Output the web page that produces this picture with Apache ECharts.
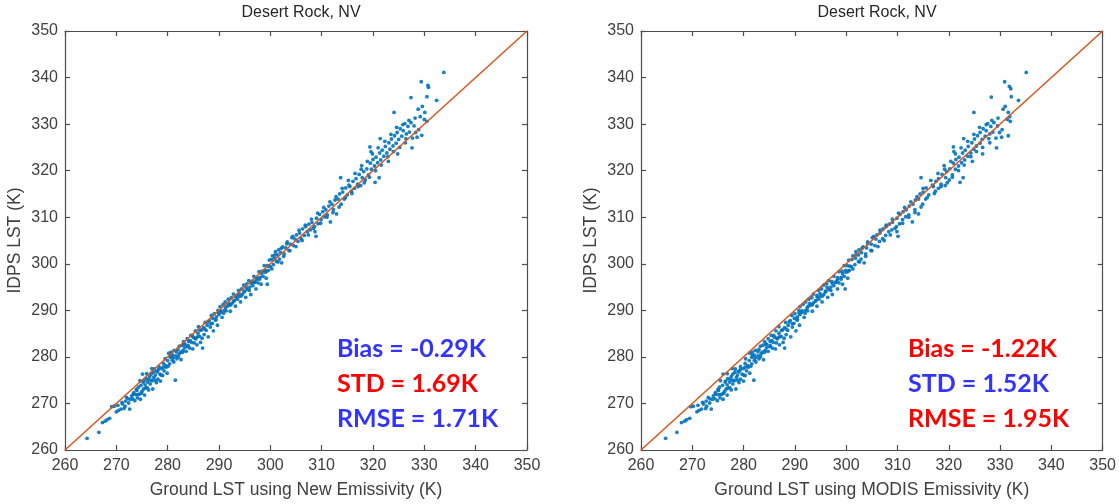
<!DOCTYPE html>
<html>
<head>
<meta charset="utf-8">
<script src="https://cdn.jsdelivr.net/npm/echarts@6/dist/echarts.min.js"></script>
<style>
html,body{margin:0;padding:0;background:#fff;}
#chart{width:1119px;height:504px;}
</style>
</head>
<body>
<div id="chart"></div>
<script>
// ---- data ----
var panelTitles = ['Desert Rock, NV', 'Desert Rock, NV'];
var xAxisNames = ['Ground LST using New Emissivity (K)', 'Ground LST using MODIS Emissivity (K)'];
var yAxisName = 'IDPS LST (K)';
var axisMin = 260, axisMax = 350, axisStep = 10;
var oneToOne = [[260, 260], [350, 350]];

// [ground LST, IDPS LST] using new emissivity
var newEmisPoints = [
[264.3,262.5],[266.6,263.8],[267.3,265.9],[267.8,266.2],[268.2,266.5],[268.7,266.8],[269.1,269.3],[269.6,269.4],[270.0,268.2],[270.4,268.5],[270.9,268.8],[271.2,269.9],[271.5,268.9],[271.8,270.5],[272.0,271.3],[272.3,271.0],[272.6,268.8],[272.8,270.9],[273.0,271.6],
[273.2,271.0],[273.4,272.3],[273.6,270.6],[273.8,271.9],[274.0,272.8],[274.1,271.2],[274.3,273.5],[274.5,272.0],[274.6,274.9],[274.7,270.9],[274.8,273.9],[275.0,272.6],[275.1,276.3],[275.2,274.6],[275.3,273.1],[275.5,271.8],[275.6,274.0],[275.8,275.3],[275.9,276.4],[276.0,273.4],[276.1,274.6],[276.3,272.9],[276.5,275.8],[276.6,274.2],[276.8,276.3],[276.9,277.5],[277.0,274.9],[277.1,273.1],[277.2,276.7],[277.3,275.6],[277.4,277.4],[277.6,276.1],[277.8,274.5],[278.0,276.8],[278.1,275.2],[278.3,277.9],[278.5,276.3],[278.6,274.8],[278.8,277.5],[279.0,276.0],[279.2,278.6],[279.3,277.0],[279.5,279.6],[279.7,277.8],[279.9,276.5],
[280.0,279.2],[280.2,280.8],[280.4,278.5],[280.5,279.9],[280.7,281.0],[280.9,279.3],[281.0,280.4],[281.2,278.9],[281.3,281.4],[281.5,275.0],[281.6,280.2],[281.8,279.6],[282.0,281.6],[282.1,280.0],[282.3,282.3],[282.5,281.0],[282.6,279.4],[282.8,282.5],[283.0,281.4],[283.1,283.3],[283.3,282.0],[283.4,282.7],[283.6,281.2],[283.8,283.9],[284.0,282.4],[284.1,283.3],[284.3,281.9],[284.5,284.6],[284.7,283.1],[284.9,281.7],[285.0,284.2],[285.2,283.0],[285.4,285.6],[285.5,283.9],[285.7,282.6],[285.9,285.1],[286.0,286.5],[286.2,284.4],[286.4,283.1],[286.6,285.8],[286.8,281.9],[287.0,286.3],[287.1,284.8],[287.3,287.4],[287.5,285.7],[287.7,286.8],[287.9,284.3],[288.1,287.8],[288.3,286.4],[288.5,288.9],[288.7,287.2],[288.9,285.6],[289.1,289.3],[289.3,287.9],[289.5,288.6],[289.7,286.8],[289.9,289.5],
[290.0,289.1],[290.2,290.8],[290.4,289.6],[290.6,288.5],[290.8,291.3],[291.0,290.0],[291.2,291.8],[291.4,289.9],[291.6,290.9],[291.8,292.4],[292.0,291.1],[292.2,289.8],[292.4,292.7],[292.6,291.6],[292.8,293.5],[293.0,292.1],[293.2,290.9],[293.4,293.2],[293.6,292.4],[293.8,294.3],[294.0,293.0],[294.2,291.8],[294.4,294.6],[294.6,293.5],[294.8,295.4],[295.0,294.1],[295.2,292.8],[295.4,295.7],[295.6,294.5],[295.8,296.4],[296.0,295.0],[296.2,293.4],[296.4,296.2],[296.6,295.3],[296.8,297.3],[297.0,296.1],[297.2,294.6],[297.4,297.0],[297.6,295.9],[297.8,298.3],[298.0,297.1],[298.2,295.6],[298.4,298.4],[298.6,297.3],[298.8,299.6],[299.0,298.2],[299.2,296.9],[299.4,295.6],[299.4,299.6],[299.6,298.6],[299.8,300.8],
[300.0,299.4],[300.2,300.9],[300.4,301.7],[300.6,299.8],[300.8,301.2],[301.0,302.6],[301.2,300.5],[301.4,301.9],[301.6,303.0],[301.8,301.0],[302.0,302.4],[302.2,300.2],[302.4,303.6],[302.7,302.1],[303.0,303.4],[303.3,304.7],[303.6,302.9],[303.9,304.2],[304.2,305.6],[304.5,303.9],[304.8,305.3],[305.1,306.2],[305.4,304.8],[305.7,306.6],[306.0,305.4],[306.3,307.5],[306.6,306.1],[306.9,308.0],[307.2,306.9],[307.5,308.5],[307.8,307.3],[308.1,308.9],[308.4,307.6],[308.7,306.9],[308.9,305.9],[309.0,309.8],[309.3,308.6],[309.6,310.6],[309.9,309.5],[310.2,311.2],[310.5,310.1],[310.8,311.6],[311.1,310.5],[311.4,312.4],[311.7,309.0],[312.0,312.8],[312.3,311.6],[312.6,313.7],[312.9,310.7],[313.2,313.9],[313.5,315.0],[313.7,318.5],[313.8,312.8],[314.1,315.4],[314.4,313.9],[314.7,316.3],[315.0,314.8],
[315.3,316.9],[315.5,316.6],[315.8,315.6],[316.1,317.7],[316.4,316.2],[316.7,318.3],[317.0,317.1],[317.3,319.2],[317.6,316.8],[317.8,321.1],[317.9,318.5],[318.2,319.8],[318.5,318.0],[318.8,320.4],[319.1,319.1],[319.4,325.1],[319.6,324.1],[319.5,321.6],[319.7,320.3],[320.0,322.4],[320.3,321.0],[320.4,317.5],[320.6,322.9],[320.9,321.7],[321.2,318.5],[321.3,323.8],[321.4,326.9],[321.5,322.3],[321.8,324.4],[322.1,323.1],[322.4,325.2],[322.7,323.8],[323.0,322.0],[323.1,326.0],[323.3,324.6],[323.6,326.8],[323.9,325.3],[324.1,332.5],[324.2,327.5],[324.5,325.9],[324.7,328.2],[324.8,323.6],[325.0,326.7],[325.3,329.0],[325.6,327.4],[325.9,328.6],[326.2,330.1],[326.3,326.0],[326.5,327.9],[326.8,329.5],[327.1,328.3],[327.4,335.7],[327.6,324.9],[327.4,330.3],
[328.0,329.6],[328.3,328.2],[328.6,327.2],[328.8,333.2],[329.2,331.6],[329.4,339.1],[329.5,327.6],[330.0,331.0],[330.1,332.5],[330.5,335.9],[330.5,330.6],[330.7,338.3],[330.8,337.9],[332.4,335.1],[333.8,341.1],
[270.3,269.6],[271.1,270.2],[271.7,269.4],[272.4,270.1],[273.3,272.0],[273.9,273.0],[274.2,271.9],[274.9,272.2],[275.4,274.8],[275.7,273.3],[276.2,275.2],[276.7,275.0],[277.5,275.0],[277.9,276.9],[278.2,277.3],[278.7,276.1],[279.1,277.8],[279.6,278.1],[280.1,278.0],[280.6,280.3],[281.1,279.8],[281.7,281.1],[282.2,280.6],[282.9,281.0],[283.2,282.8],[283.9,282.2],[284.4,283.5],[284.8,284.6],[285.3,284.0],[285.8,284.3],[286.3,285.7],[286.7,284.0],[287.2,286.0],[287.8,287.5],[288.4,287.1],[288.8,288.3],[289.4,288.0],[289.8,290.0],[290.3,289.9],[290.9,289.4],[291.3,290.6],[291.9,291.5],[292.3,291.2],[292.9,292.0],[293.3,292.8],[293.9,293.6],[294.3,293.1],[294.9,294.0],[295.3,294.9],[295.9,294.3],[296.3,295.8],[296.9,296.0],[297.3,296.6],[297.9,296.7],[298.3,297.9],[298.9,298.6],[299.3,298.4],[299.7,299.5],
[300.3,298.9],[300.9,301.9],[301.5,300.4],[302.1,303.3],[302.6,301.6],[303.2,304.3],[303.8,302.8],[304.4,305.9],[305.0,303.7],[305.6,307.2],[306.2,305.0],[306.8,308.3],[307.4,306.2],[308.0,309.6],[308.6,308.0],[309.2,310.9],[309.8,308.7],[310.4,312.1],[311.0,310.0],[311.6,313.3],[312.2,311.0],[312.8,314.4],[313.4,312.2],[314.0,316.2],[314.6,314.2],
[315.2,317.9],[315.9,315.1],[316.5,319.4],[317.1,316.6],[317.7,320.3],[318.3,317.4],[318.9,322.0],[319.3,318.6],[319.9,323.6],[320.5,320.0],[321.0,324.9],[321.6,321.2],[322.3,326.3],[322.9,323.0],[323.5,327.8],[324.0,324.1],[324.6,329.3],[325.2,325.0],[325.8,329.9],[326.4,326.9],[327.0,330.8],[327.7,327.0],[328.2,331.3],[328.9,328.8],[329.6,333.8]
];

// [ground LST, IDPS LST] using MODIS emissivity
var modisEmisPoints = [
[264.8,262.5],[267.0,263.8],[267.9,265.9],[268.5,266.2],[268.9,266.5],[269.5,266.8],[269.7,269.3],[270.2,269.4],[270.9,268.2],[271.3,268.5],[271.8,268.8],[272.2,269.9],[272.6,268.9],[272.7,270.5],[273.1,271.3],[273.4,271.0],[273.7,268.8],[273.9,270.9],[274.1,271.6],
[274.4,271.0],[274.5,272.3],[274.9,270.6],[275.0,271.9],[275.1,272.8],[275.4,271.2],[275.3,273.5],[275.8,272.0],[275.5,274.9],[276.0,270.9],[275.9,273.9],[276.3,272.6],[276.0,276.3],[276.4,274.6],[276.6,273.1],[276.8,271.8],[276.8,274.0],[276.9,275.3],[276.8,276.4],[277.3,273.4],[277.3,274.6],[277.6,272.9],[277.6,275.8],[277.9,274.2],[277.9,276.3],[277.8,277.5],[278.2,274.9],[278.5,273.1],[278.3,276.7],[278.6,275.6],[278.4,277.4],[278.8,276.1],[279.1,274.5],[279.1,276.8],[279.4,275.2],[279.4,277.9],[279.7,276.3],[280.0,274.8],[280.0,277.5],[280.3,276.0],[280.3,278.6],[280.6,277.0],[280.4,279.6],[280.9,277.8],[281.2,276.5],
[281.1,279.2],[281.2,280.8],[281.6,278.5],[281.6,279.9],[281.7,281.0],[282.1,279.3],[282.1,280.4],[282.4,278.9],[282.3,281.4],[282.0,275.0],[282.8,280.2],[283.0,279.6],[283.0,281.6],[283.3,280.0],[283.3,282.3],[283.6,281.0],[283.9,279.4],[283.8,282.5],[284.2,281.4],[284.1,283.3],[284.5,282.0],[284.5,282.7],[284.8,281.2],[284.8,283.9],[285.2,282.4],[285.2,283.3],[285.6,281.9],[285.4,284.6],[285.8,283.1],[286.2,281.7],[286.0,284.2],[286.4,283.0],[286.3,285.6],[286.6,283.9],[287.0,282.6],[286.9,285.1],[286.9,286.5],[287.3,284.4],[287.7,283.1],[287.6,285.8],[288.0,281.9],[288.0,286.3],[288.3,284.8],[288.2,287.4],[288.6,285.7],[288.7,286.8],[289.2,284.3],[289.1,287.8],[289.5,286.4],[289.4,288.9],[289.8,287.2],[290.2,285.6],[290.0,289.3],[290.4,287.9],[290.5,288.6],[290.9,286.8],[290.8,289.5],
[291.0,289.1],[291.0,290.8],[291.4,289.6],[291.8,288.5],[291.6,291.3],[292.1,290.0],[292.1,291.8],[292.5,289.9],[292.6,290.9],[292.7,292.4],[293.0,291.1],[293.4,289.8],[293.3,292.7],[293.6,291.6],[293.6,293.5],[294.1,292.1],[294.3,290.9],[294.3,293.2],[294.7,292.4],[294.6,294.3],[295.0,293.0],[295.3,291.8],[295.2,294.6],[295.7,293.5],[295.6,295.4],[296.0,294.1],[296.4,292.8],[296.2,295.7],[296.6,294.5],[296.6,296.4],[297.0,295.0],[297.3,293.4],[297.2,296.2],[297.6,295.3],[297.6,297.3],[298.0,296.1],[298.3,294.6],[298.3,297.0],[298.6,295.9],[298.6,298.3],[299.0,297.1],[299.3,295.6],[299.2,298.4],[299.6,297.3],[299.6,299.6],[300.0,298.2],[300.3,296.9],[299.8,294.6],[300.2,299.6],[300.6,298.6],[300.5,300.8],
[301.0,299.4],[301.1,300.9],[301.3,301.7],[301.7,299.8],[301.8,301.2],[301.9,302.6],[302.4,300.5],[302.4,301.9],[302.5,303.0],[302.9,301.0],[303.0,302.4],[303.5,300.2],[303.3,303.6],[303.8,302.1],[304.0,303.4],[304.2,304.7],[304.8,302.9],[304.9,304.2],[305.1,305.6],[305.6,303.9],[305.8,305.3],[306.0,306.2],[306.5,304.8],[306.6,306.6],[307.1,305.4],[307.2,307.5],[307.7,306.1],[307.8,308.0],[308.3,306.9],[308.4,308.5],[308.9,307.3],[309.0,308.9],[309.5,307.6],[309.9,306.9],[310.1,305.9],[309.9,309.8],[310.4,308.6],[310.5,310.6],[311.0,309.5],[311.1,311.2],[311.6,310.1],[311.7,311.6],[312.2,310.5],[312.3,312.4],[312.9,309.0],[313.0,312.8],[313.4,311.6],[313.5,313.7],[314.1,310.7],[314.1,313.9],[314.4,315.0],[314.6,318.5],[314.9,312.8],[315.0,315.4],[315.5,313.9],[315.6,316.3],[316.1,314.8],
[316.8,316.9],[317.0,316.6],[317.4,315.6],[317.5,317.7],[318.0,316.2],[318.0,318.3],[318.5,317.1],[318.7,319.2],[319.3,316.8],[319.1,321.1],[319.4,318.5],[319.6,319.8],[320.1,318.0],[320.2,320.4],[320.7,319.1],[320.9,325.1],[321.0,324.1],[320.9,321.6],[321.3,320.3],[321.4,322.4],[321.9,321.0],[322.2,317.5],[322.0,322.9],[322.5,321.7],[322.8,318.5],[322.7,323.8],[322.9,326.9],[323.1,322.3],[323.2,324.4],[323.7,323.1],[323.8,325.2],[324.3,323.8],[324.6,322.0],[324.5,326.0],[324.9,324.6],[325.0,326.8],[325.4,325.3],[324.9,332.5],[325.6,327.5],[326.1,325.9],[326.1,328.2],[326.6,323.6],[326.5,326.7],[326.7,329.0],[327.1,327.4],[327.3,328.6],[327.6,330.1],[328.0,326.0],[328.0,327.9],[328.2,329.5],[328.6,328.3],[328.3,335.8],[329.3,324.9],[328.8,330.3],
[329.5,329.6],[329.9,328.2],[330.3,327.2],[330.6,333.2],[331.9,331.6],[330.9,339.1],[331.6,327.5],[331.4,331.0],[331.6,332.5],[332.2,335.9],[332.0,330.6],[331.8,338.1],[332.1,337.6],[333.6,335.1],[335.1,341.1],
[271.1,269.6],[272.0,270.2],[272.8,269.4],[273.4,270.1],[274.5,272.0],[275.0,273.0],[275.5,271.9],[276.1,272.2],[276.5,274.8],[277.0,273.3],[277.4,275.2],[277.9,275.0],[278.8,275.0],[279.0,276.9],[279.4,277.3],[280.0,276.1],[280.3,277.8],[280.8,278.1],[281.4,278.0],[281.7,280.3],[282.3,279.8],[282.8,281.1],[283.4,280.6],[284.1,281.0],[284.3,282.8],[285.1,282.2],[285.5,283.5],[285.9,284.6],[286.5,284.0],[287.0,284.3],[287.4,285.7],[287.9,284.0],[288.3,286.0],[288.9,287.5],[289.5,287.1],[289.9,288.3],[290.5,288.0],[290.8,290.0],[291.4,289.9],[292.0,289.4],[292.4,290.6],[292.9,291.5],[293.4,291.2],[294.0,292.0],[294.4,292.8],[294.9,293.6],[295.4,293.1],[296.0,294.0],[296.3,294.9],[297.0,294.3],[297.3,295.8],[298.0,296.0],[298.3,296.6],[299.0,296.7],[299.3,297.9],[299.9,298.6],[300.4,298.4],[300.7,299.5],
[301.3,298.9],[301.9,301.9],[302.6,300.4],[303.1,303.3],[303.8,301.6],[304.2,304.3],[305.0,302.8],[305.4,305.9],[306.2,303.7],[306.6,307.2],[307.4,305.0],[307.8,308.3],[308.6,306.2],[309.0,309.6],[309.8,308.0],[310.2,310.9],[311.0,308.7],[311.4,312.1],[312.2,310.0],[312.6,313.3],[313.4,311.0],[313.8,314.4],[314.6,312.2],[315.0,316.2],[315.8,314.2],
[316.5,317.9],[317.2,315.1],[317.9,319.4],[318.5,316.6],[319.2,320.3],[319.7,317.4],[320.4,322.0],[320.7,318.6],[321.3,323.6],[321.9,320.0],[322.4,324.9],[323.0,321.2],[323.7,326.3],[324.3,323.0],[324.9,327.8],[325.4,324.1],[326.0,329.3],[326.6,325.0],[327.3,329.9],[327.8,326.9],[328.4,330.8],[329.2,327.0],[329.6,331.3],[330.4,328.8],[331.0,333.8]
];

var statsLabels = [
  ['Bias = -0.29K', 'STD = 1.69K', 'RMSE = 1.71K'],
  ['Bias = -1.22K', 'STD = 1.52K', 'RMSE = 1.95K']
];
var statsColors = [
  ['#3333ff', '#ff0000', '#3333ff'],
  ['#ff0000', '#3333ff', '#ff0000']
];

// ---- build chart ----
var chart = echarts.init(document.getElementById('chart'), null, {renderer: 'canvas'});
var FONT = '"Liberation Sans", Arial, sans-serif';
var AXIS_COLOR = '#4d4d4d';
var LABEL_COLOR = '#404040';
var grids = [
  {left: 65, top: 31, width: 462, height: 420},
  {left: 641, top: 31, width: 462, height: 420}
];
var pointSets = [newEmisPoints, modisEmisPoints];

var xAxes = [], yAxes = [], series = [], titles = [], graphics = [];
grids.forEach(function (g, i) {
  var common = {
    type: 'value', min: axisMin, max: axisMax, interval: axisStep, gridIndex: i,
    axisLine: {show: true, onZero: false, lineStyle: {color: AXIS_COLOR, width: 1.2}},
    axisTick: {show: true, inside: true, length: 5, lineStyle: {color: AXIS_COLOR, width: 1.2}},
    splitLine: {show: false}
  };
  xAxes.push(Object.assign({}, common, {
    position: 'bottom',
    name: xAxisNames[i], nameLocation: 'middle', nameGap: 31,
    nameTextStyle: {fontFamily: FONT, fontSize: 17.5, color: LABEL_COLOR},
    axisLabel: {fontFamily: FONT, fontSize: 16, color: LABEL_COLOR, margin: 8}
  }));
  xAxes.push(Object.assign({}, common, {position: 'top', axisLabel: {show: false}}));
  yAxes.push(Object.assign({}, common, {
    position: 'left',
    name: yAxisName, nameLocation: 'middle', nameGap: 41,
    nameTextStyle: {fontFamily: FONT, fontSize: 17.5, color: LABEL_COLOR},
    axisLabel: {fontFamily: FONT, fontSize: 16, color: LABEL_COLOR, margin: 7}
  }));
  yAxes.push(Object.assign({}, common, {position: 'right', axisLabel: {show: false}}));

  series.push({
    type: 'scatter', xAxisIndex: i * 2, yAxisIndex: i * 2,
    data: pointSets[i], symbol: 'circle', symbolSize: 3.8,
    itemStyle: {color: '#0072BD', opacity: 0.9}, silent: true, z: 2
  });
  series.push({
    type: 'line', xAxisIndex: i * 2, yAxisIndex: i * 2,
    data: oneToOne, showSymbol: false, symbol: 'none',
    lineStyle: {color: '#D95319', width: 1.5}, silent: true, z: 3
  });
  titles.push({
    text: panelTitles[i], left: g.left + g.width / 2, top: 0, textAlign: 'center',
    textStyle: {fontFamily: FONT, fontSize: 16, fontWeight: 'normal', color: '#262626'}
  });
  statsLabels[i].forEach(function (t, k) {
    graphics.push({
      type: 'text', left: (i === 0 ? 337 : 908), top: 336 + k * 35,
      style: {text: t, fill: statsColors[i][k], font: 'bold 25px Lato, "Open Sans", sans-serif'}
    });
  });
});

chart.setOption({
  animation: false,
  backgroundColor: '#ffffff',
  title: titles,
  grid: grids,
  xAxis: xAxes,
  yAxis: yAxes,
  series: series,
  graphic: graphics
});
</script>
</body>
</html>
